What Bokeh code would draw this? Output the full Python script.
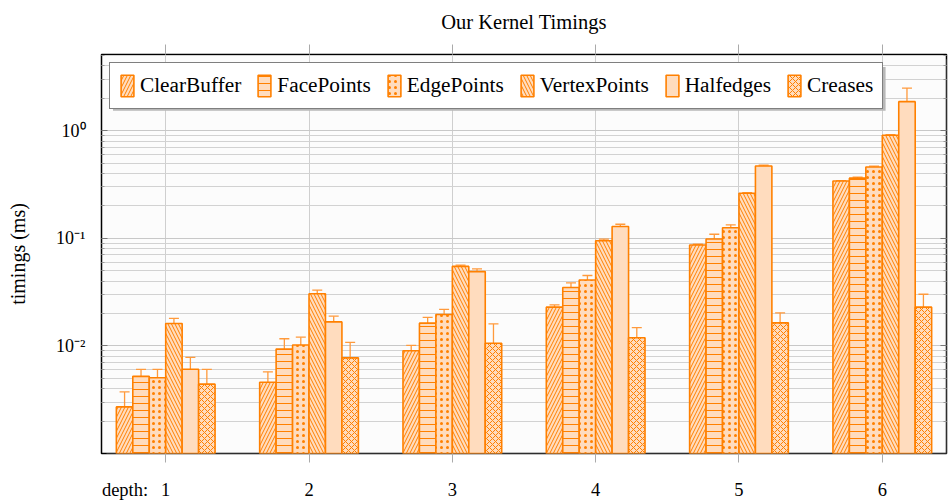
import numpy as np
from bokeh.plotting import figure
from bokeh.models import (ColumnDataSource, Whisker, TeeHead, Legend, LegendItem,
                          FixedTicker, LinearAxis, LogAxis, Range1d,
                          CustomJSTickFormatter, BoxAnnotation)
from bokeh.embed import file_html
from bokeh.resources import INLINE

# ---------------- data ----------------
title_text = "Our Kernel Timings"
depths = [1, 2, 3, 4, 5, 6]
depth_caption = "depth:"
series_names = ["ClearBuffer", "FacePoints", "EdgePoints", "VertexPoints", "Halfedges", "Creases"]

clear_buffer      = [0.00271, 0.00459, 0.00901, 0.0229, 0.0867, 0.340]
clear_buffer_err  = [0.00102, 0.00115, 0.00109, 0.0011, 0.0013, 0.003]
face_points       = [0.00521, 0.00933, 0.01626, 0.0349, 0.0984, 0.362]
face_points_err   = [0.00085, 0.00232, 0.00214, 0.0036, 0.0106, 0.008]
edge_points       = [0.00506, 0.0102, 0.01959, 0.0410, 0.1254, 0.459]
edge_points_err   = [0.0010, 0.00186, 0.00221, 0.0041, 0.0079, 0.009]
vertex_points     = [0.01614, 0.0305, 0.0548, 0.0948, 0.262, 0.907]
vertex_points_err = [0.00186, 0.0025, 0.0015, 0.0034, 0.003, 0.013]
halfedges         = [0.00607, 0.0167, 0.0490, 0.1288, 0.469, 1.859]
halfedges_err     = [0.00176, 0.0022, 0.0029, 0.0062, 0.009, 0.63]
creases           = [0.00441, 0.00774, 0.01057, 0.01189, 0.01637, 0.0229]
creases_err       = [0.00165, 0.00306, 0.00543, 0.00286, 0.00393, 0.0073]

values = [clear_buffer, face_points, edge_points, vertex_points, halfedges, creases]
errors = [clear_buffer_err, face_points_err, edge_points_err, vertex_points_err, halfedges_err, creases_err]

y_major = [0.01, 0.1, 1.0]
y_minor = [m * d for d in [0.001, 0.01, 0.1, 1.0] for m in range(2, 10) if m * d < 5.1]

# ---------------- style ----------------
ORANGE = "#FF8000"
FILL = "#FFDCBE"
ERR = "#FF9A3C"
SHADOW = "#B8B8B8"
hatches = ["/", "-", ".", "\\", "blank", "x"]
hatch_scales = [7, 7, 6, 7, 7, 6]
SERIF = "Liberation Serif"
bar_w = 0.1148
caption_pos = 0.716

p = figure(width=950, height=502,
           x_range=Range1d(0.552, 6.448), y_range=Range1d(1e-3, 5.1),
           y_axis_type="log", output_backend="svg", toolbar_location=None,
           min_border_left=101, min_border_right=4, min_border_top=54, min_border_bottom=38)

p.background_fill_color = "#FCFCFC"
p.border_fill_color = "white"
p.outline_line_color = "black"
p.outline_line_width = 1.5
p.title.visible = False

# frame shadow (bottom and right strips, just outside the frame)
p.add_layout(BoxAnnotation(left=0.587, right=6.476, top=1e-3, bottom=9.2e-4,
                           fill_color=SHADOW, fill_alpha=1.0, line_color=None, level="underlay"))
p.add_layout(BoxAnnotation(left=6.448, right=6.476, top=4.6, bottom=9.2e-4,
                           fill_color=SHADOW, fill_alpha=1.0, line_color=None, level="underlay"))

# grids
p.xgrid.ticker = FixedTicker(ticks=depths)
p.xgrid.grid_line_color = "#CFCFCF"
p.ygrid.grid_line_color = "#C8C8C8"
p.ygrid.minor_grid_line_color = "#D2D2D2"

# y axis
yticker = FixedTicker(ticks=y_major, minor_ticks=y_minor)
fmt = CustomJSTickFormatter(code="""
const e = Math.round(Math.log10(tick));
const sup = {'-':'\u207B','0':'\u2070','1':'\u00B9','2':'\u00B2','3':'\u00B3','4':'\u2074',
             '5':'\u2075','6':'\u2076','7':'\u2077','8':'\u2078','9':'\u2079'};
return '10' + String(e).split('').map(c => sup[c]).join('');
""")
blank_fmt = CustomJSTickFormatter(code="return '';")

ya = p.yaxis[0]
ya.ticker = yticker
ya.formatter = fmt
ya.axis_line_color = None
ya.major_tick_in = 6
ya.major_tick_out = 0
ya.minor_tick_in = 3
ya.minor_tick_out = 0
ya.major_tick_line_color = "#777777"
ya.minor_tick_line_color = "#999999"
ya.major_label_text_font = SERIF
ya.major_label_text_font_size = "18px"
ya.major_label_text_color = "black"
ya.major_label_standoff = 16
ya.axis_label = "timings (ms)"
ya.axis_label_text_font = SERIF
ya.axis_label_text_font_size = "20px"
ya.axis_label_text_font_style = "normal"
ya.axis_label_text_color = "black"
ya.axis_label_standoff = 24

ra = LogAxis(ticker=yticker, formatter=blank_fmt, axis_line_color=None,
             major_tick_in=6, major_tick_out=0, minor_tick_in=3, minor_tick_out=0,
             major_tick_line_color="#777777", minor_tick_line_color="#999999",
             major_label_standoff=0)
p.add_layout(ra, "right")

# x axis: tick stubs (closest to frame)
xa = p.xaxis[0]
xa.ticker = FixedTicker(ticks=depths)
xa.formatter = blank_fmt
xa.axis_line_color = None
xa.major_tick_in = 0
xa.major_tick_out = 9
xa.major_tick_line_color = "#AAAAAA"
xa.minor_tick_line_color = None
xa.major_label_standoff = 0

# x axis: labels (incl. "depth:" caption)
label_fmt = CustomJSTickFormatter(args=dict(caption=depth_caption), code="""
return tick < 1 ? caption : tick.toFixed(0);
""")
xb = LinearAxis(ticker=FixedTicker(ticks=[caption_pos] + depths), formatter=label_fmt,
                axis_line_color=None, major_tick_line_color=None, minor_tick_line_color=None,
                major_label_text_font=SERIF, major_label_text_font_size="18.5px",
                major_label_text_color="black", major_label_standoff=11)
p.add_layout(xb, "below")

# top axis: tick stubs + chart title
ta = LinearAxis(ticker=FixedTicker(ticks=depths), formatter=blank_fmt, axis_line_color=None,
                major_tick_in=0, major_tick_out=10, major_tick_line_color="#AAAAAA",
                minor_tick_line_color=None, major_label_standoff=0,
                axis_label=title_text, axis_label_text_font=SERIF,
                axis_label_text_font_size="20.5px", axis_label_text_font_style="normal",
                axis_label_text_color="black", axis_label_standoff=12)
p.add_layout(ta, "above")

# legend shadow
p.add_layout(BoxAnnotation(left=0.632, right=6.023, top=3.9, bottom=1.53,
                           fill_color=SHADOW, fill_alpha=1.0, line_color=None))

# bars + error bars
items = []
for i, (name, vals, errs) in enumerate(zip(series_names, values, errors)):
    xs = np.array(depths, dtype=float) + (i - 2.5) * bar_w
    v = np.array(vals)
    e = np.array(errs)
    src = ColumnDataSource(dict(x=xs, top=v, bottom=np.full(len(v), 1e-3),
                                upper=v + e, lower=v - e))
    r = p.vbar(x="x", top="top", bottom="bottom", width=bar_w, source=src,
               fill_color=FILL, line_color=ORANGE, line_width=1.6,
               hatch_pattern=hatches[i], hatch_color=ORANGE, hatch_weight=1.0,
               hatch_scale=hatch_scales[i])
    w = Whisker(source=src, base="x", upper="upper", lower="lower", dimension="height",
                line_color=ERR, line_width=1.3,
                upper_head=TeeHead(size=10, line_color=ERR, line_width=1.3),
                lower_head=TeeHead(size=10, line_color=ERR, line_width=1.3))
    p.add_layout(w)
    items.append(LegendItem(label=name, renderers=[r]))

legend = Legend(items=items, orientation="horizontal", location="top_left",
                label_text_font=SERIF, label_text_font_size="21.3px", label_text_color="black",
                glyph_width=16, glyph_height=27, label_standoff=5, spacing=15,
                padding=9, margin=8, border_line_color="black", border_line_width=1.5,
                background_fill_color="white", background_fill_alpha=1.0)
p.add_layout(legend)

open("out.html", "w").write(file_html(p, INLINE))
